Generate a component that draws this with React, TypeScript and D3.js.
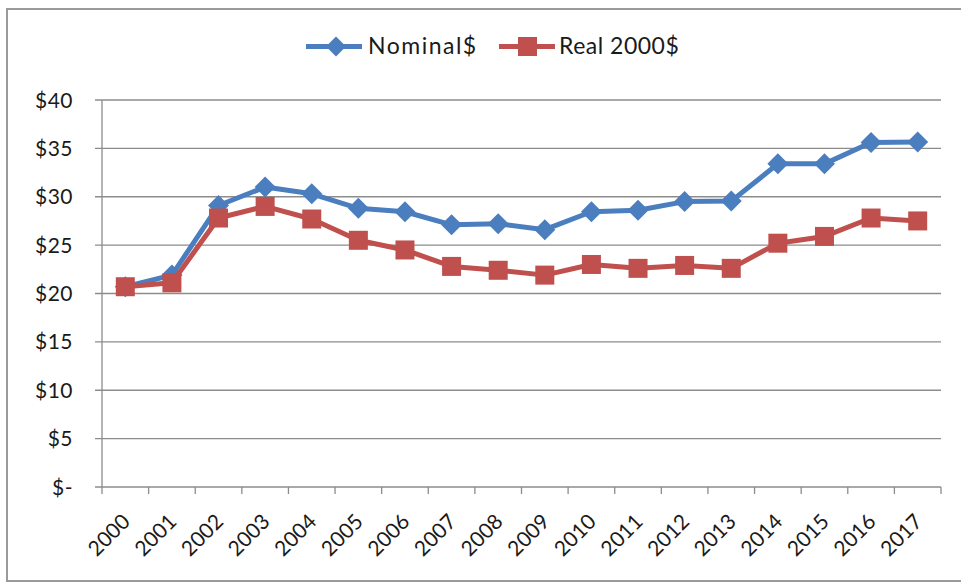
import React from "react";
import * as d3 from "d3";

const years = ["2000","2001","2002","2003","2004","2005","2006","2007","2008","2009","2010","2011","2012","2013","2014","2015","2016","2017"];
const nominal = [20.7, 21.9, 29.1, 31.0, 30.3, 28.8, 28.45, 27.1, 27.2, 26.6, 28.45, 28.6, 29.5, 29.55, 33.4, 33.4, 35.6, 35.65];
const real = [20.7, 21.1, 27.8, 29.0, 27.7, 25.5, 24.5, 22.8, 22.4, 21.9, 23.0, 22.6, 22.9, 22.6, 25.2, 25.9, 27.8, 27.5];
const yTicks = [0, 5, 10, 15, 20, 25, 30, 35, 40];
const seriesNames = ["Nominal$", "Real 2000$"];

const W = 961, H = 582;
const left = 102, right = 941, top = 100, bottom = 487;
const BLUE = "#4A7EBF", RED = "#C0504D";
const FONT = "Lato, 'Open Sans', sans-serif";

export default function App() {
  const x = d3.scaleBand<string>().domain(years).range([left, right]);
  const y = d3.scaleLinear().domain([0, 40]).range([bottom, top]);
  const cx = (yr: string) => (x(yr) as number) + x.bandwidth() / 2;
  const line = d3.line<number>().x((_, i) => cx(years[i])).y(d => y(d));
  const diamond = (px: number, py: number, r: number) => `M${px},${py - r}L${px + r},${py}L${px},${py + r}L${px - r},${py}Z`;
  const fmt = (v: number) => (v === 0 ? "$-" : `$${v}`);
  const tickXs = years.map(yr => x(yr) as number).concat([right]);

  return (
    <svg width={W} height={H} style={{ position: "absolute", left: 0, top: 0, background: "#fff" }} fontFamily={FONT}>
      <rect x={7} y={9} width={960} height={572} fill="#fff" stroke="#9a9a9a" strokeWidth={2} />
      {yTicks.map(t => (
        <line key={t} x1={left - 7} x2={right} y1={y(t)} y2={y(t)} stroke="#8c8c8c" strokeWidth={1.3} />
      ))}
      <line x1={left} x2={left} y1={top} y2={bottom} stroke="#8c8c8c" strokeWidth={1.3} />
      {tickXs.map((tx, i) => (
        <line key={i} x1={tx} x2={tx} y1={bottom} y2={bottom + 7} stroke="#8c8c8c" strokeWidth={1.3} />
      ))}
      {yTicks.map(t => (
        <text key={t} x={73} y={y(t) + 7.5} textAnchor="end" fontSize={21} letterSpacing={0.5} fill="#1a1a1a">{fmt(t)}</text>
      ))}
      {years.map(yr => (
        <text key={yr} transform={`translate(${cx(yr) + 6},${bottom + 36}) rotate(-45)`} textAnchor="end" fontSize={21} fill="#1a1a1a">{yr}</text>
      ))}
      <path d={line(nominal) as string} fill="none" stroke={BLUE} strokeWidth={5} strokeLinejoin="round" />
      {nominal.map((v, i) => (
        <path key={i} d={diamond(cx(years[i]), y(v), 10.5)} fill={BLUE} />
      ))}
      <path d={line(real) as string} fill="none" stroke={RED} strokeWidth={5} strokeLinejoin="round" />
      {real.map((v, i) => (
        <rect key={i} x={cx(years[i]) - 9.5} y={y(v) - 9.5} width={19} height={19} fill={RED} />
      ))}
      <g>
        <line x1={306} x2={362} y1={46.5} y2={46.5} stroke={BLUE} strokeWidth={5} />
        <path d={diamond(336, 46.5, 10)} fill={BLUE} />
        <text x={368} y={54} fontSize={23} letterSpacing={1.5} fill="#1a1a1a">{seriesNames[0]}</text>
        <line x1={499} x2={555} y1={46.5} y2={46.5} stroke={RED} strokeWidth={5} />
        <rect x={518} y={37} width={19} height={19} fill={RED} />
        <text x={559} y={54} fontSize={23} letterSpacing={0.5} fill="#1a1a1a">{seriesNames[1]}</text>
      </g>
    </svg>
  );
}
